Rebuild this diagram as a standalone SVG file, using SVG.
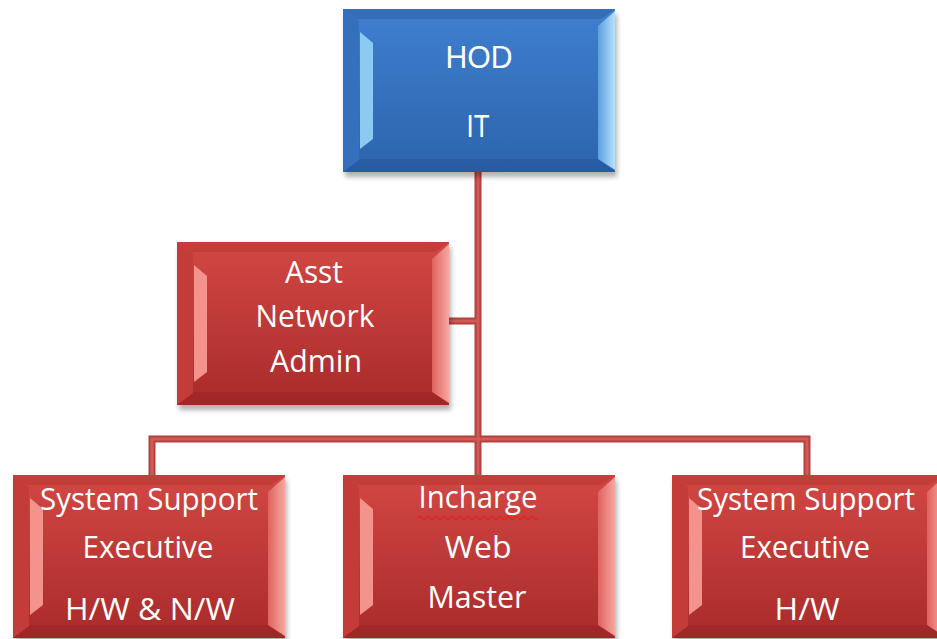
<svg xmlns="http://www.w3.org/2000/svg" xmlns:xlink="http://www.w3.org/1999/xlink" width="937" height="639" viewBox="0 0 937 639">
<style>
.lbl{font-family:"Open Sans","Liberation Sans",sans-serif;font-size:31px;fill:#ffffff;text-anchor:middle}
.hod{font-family:"Liberation Sans","Arial",sans-serif;font-size:31px;fill:#ffffff;text-anchor:middle}
.cOut{stroke:#b5403d;stroke-width:7;fill:none;stroke-linecap:square}
.cIn{stroke:#d05a56;stroke-width:3;fill:none;stroke-linecap:square}
</style>
<defs>
<linearGradient id="gBlue" x1="0" y1="0" x2="0" y2="1">
<stop offset="0" stop-color="#3f80cf"/><stop offset="1" stop-color="#2c63ad"/>
</linearGradient>
<linearGradient id="gRed" x1="0" y1="0" x2="0" y2="1">
<stop offset="0" stop-color="#d3474420" stop-opacity="1"/><stop offset="0" stop-color="#d24744"/><stop offset="1" stop-color="#a92b2a"/>
</linearGradient>
<linearGradient id="gBlueR" x1="0" y1="0" x2="1" y2="0">
<stop offset="0" stop-color="#5d9fe0"/><stop offset="1" stop-color="#b5e2fb"/>
</linearGradient>
<linearGradient id="gRedR" x1="0" y1="0" x2="1" y2="0">
<stop offset="0" stop-color="#e0625e"/><stop offset="1" stop-color="#f7a6a0"/>
</linearGradient>
<filter id="sh" x="-10%" y="-10%" width="120%" height="130%">
<feGaussianBlur stdDeviation="2.5"/>
</filter>
<symbol id="blueBox" viewBox="0 0 280 172" width="280" height="172" overflow="visible">
<rect x="2" y="5" width="272" height="163" fill="#000" opacity="0.3" filter="url(#sh)"/>
<rect x="0" y="0" width="272" height="163" fill="url(#gBlue)"/>
<polygon points="0,0 272,0 258,10 14,10" fill="#2a5e9f" opacity="0.5"/>
<polygon points="0,163 272,163 256,150 16,150" fill="#1f4e8c" opacity="0.35"/>
<polygon points="0,0 16,12 16,151 0,163" fill="#3570bd"/>
<polygon points="17,23 30,34 30,130 17,140" fill="#8ccaf2"/>
<polygon points="255,17 272,2 272,161 255,150" fill="url(#gBlueR)"/>
</symbol>
<symbol id="redBox" viewBox="0 0 280 172" width="280" height="172" overflow="visible">
<rect x="2" y="5" width="272" height="163" fill="#000" opacity="0.3" filter="url(#sh)"/>
<rect x="0" y="0" width="272" height="163" fill="url(#gRed)"/>
<polygon points="0,0 272,0 258,10 14,10" fill="#b53532" opacity="0.5"/>
<polygon points="0,163 272,163 256,150 16,150" fill="#8c2020" opacity="0.35"/>
<polygon points="0,0 16,12 16,151 0,163" fill="#c33c3a"/>
<polygon points="17,23 30,34 30,130 17,140" fill="#f4928c"/>
<polygon points="255,17 272,2 272,161 255,150" fill="url(#gRedR)"/>
</symbol>
</defs>
<rect width="937" height="639" fill="#ffffff"/>
<g id="connectors">
<path class="cOut" d="M478,172 V475 M450,321 H478 M152,439 H807 M152,439 V475 M807,439 V475"/>
<path class="cIn" d="M478,172 V475 M450,321 H478 M152,439 H807 M152,439 V475 M807,439 V475"/>
</g>
<g id="hod">
<use href="#blueBox" x="343" y="9"/>
<text class="hod" x="479" y="68" textLength="67" lengthAdjust="spacingAndGlyphs">HOD</text>
<text class="hod" x="478" y="137" textLength="23" lengthAdjust="spacingAndGlyphs">IT</text>
</g>
<g id="asst">
<use href="#redBox" x="177" y="242"/>
<text class="lbl" x="314" y="283" textLength="58" lengthAdjust="spacingAndGlyphs">Asst</text>
<text class="lbl" x="315" y="327" textLength="119" lengthAdjust="spacingAndGlyphs">Network</text>
<text class="lbl" x="316" y="372" textLength="92" lengthAdjust="spacingAndGlyphs">Admin</text>
</g>
<g id="sse1">
<use href="#redBox" x="13" y="475"/>
<text class="lbl" x="149" y="510" textLength="218" lengthAdjust="spacingAndGlyphs">System Support</text>
<text class="lbl" x="148" y="558" textLength="131" lengthAdjust="spacingAndGlyphs">Executive</text>
<text class="lbl" x="150" y="620" textLength="170" lengthAdjust="spacingAndGlyphs">H/W &amp; N/W</text>
</g>
<g id="web">
<use href="#redBox" x="343" y="475"/>
<text class="lbl" x="478" y="508" textLength="119" lengthAdjust="spacingAndGlyphs">Incharge</text>
<path d="M418,518 q2,-3 4,0 t4,0 t4,0 t4,0 t4,0 t4,0 t4,0 t4,0 t4,0 t4,0 t4,0 t4,0 t4,0 t4,0 t4,0 t4,0 t4,0 t4,0 t4,0 t4,0 t4,0 t4,0 t4,0 t4,0 t4,0 t4,0 t4,0 t4,0 t4,0 t4,0" fill="none" stroke="#e02020" stroke-width="1.3"/>
<text class="lbl" x="478" y="558" textLength="67" lengthAdjust="spacingAndGlyphs">Web</text>
<text class="lbl" x="477" y="608" textLength="99" lengthAdjust="spacingAndGlyphs">Master</text>
</g>
<g id="sse2">
<use href="#redBox" x="672" y="475"/>
<text class="lbl" x="806" y="510" textLength="218" lengthAdjust="spacingAndGlyphs">System Support</text>
<text class="lbl" x="805" y="558" textLength="130" lengthAdjust="spacingAndGlyphs">Executive</text>
<text class="lbl" x="807" y="620" textLength="65" lengthAdjust="spacingAndGlyphs">H/W</text>
</g>
</svg>
